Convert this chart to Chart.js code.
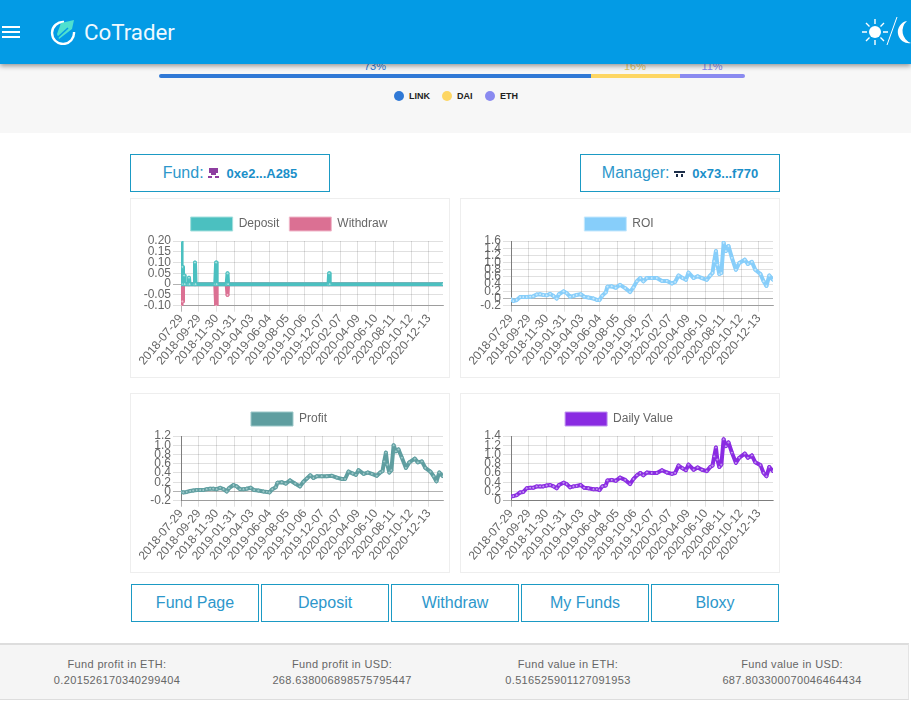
<!DOCTYPE html>
<html>
<head>
<meta charset="utf-8">
<title>CoTrader</title>
<script src="https://cdn.jsdelivr.net/npm/chart.js@4"></script>
<style>
html, body { margin: 0; padding: 0; background: #fff; overflow: hidden; }
body { width: 911px; height: 702px; position: relative; font-family: "Liberation Sans", Arial, sans-serif; }
.abs { position: absolute; }
#header { left: 0; top: 0; width: 911px; height: 64px; background: #039be5; box-shadow: 0 2px 5px rgba(0,0,0,.4); z-index: 5; }
#logo-text { left: 84px; top: 19px; color: #eef9ff; font: 400 22.3px Roboto, sans-serif; }
.burger { left: 2px; width: 18px; height: 2.4px; background: #fff; }
#top-band { left: 0; top: 64px; width: 911px; height: 69px; background: #f7f7f7; }
.pct { top: 60px; font-size: 11px; transform: translateX(-50%); }
.seg { top: 74px; height: 4px; }
.dot { top: 91px; width: 10px; height: 10px; border-radius: 50%; }
.lg { top: 91px; font-size: 9px; font-weight: bold; color: #222; line-height: 10px; }
.box { border: 1px solid #1b9ac4; box-sizing: border-box; background: #fff; color: #2d97cb; font-size: 16px; text-align: center; line-height: 36px; height: 38px; }
.box b { font-size: 13px; color: #1b8fc9; margin-left: 3px; }
.card { width: 320px; height: 180px; border: 1px solid #eee; box-sizing: border-box; }
canvas { position: absolute; left: 0; top: 0; }
#footer { left: 0; top: 643px; width: 909px; height: 57px; background: #f5f5f5; border-top: 2px solid #ddd; border-bottom: 1px solid #ddd; border-right: 1px solid #e4e4e4; box-sizing: border-box; }
.foot { transform: translateX(-50%); font-size: 11px; letter-spacing: .35px; color: #666; white-space: nowrap; text-align: center; line-height: 16px; }
</style>
</head>
<body>
<div class="abs" id="top-band"></div>
<div class="abs pct" style="left:375px;color:#3079d6">73%</div>
<div class="abs pct" style="left:635px;color:#e2c463">16%</div>
<div class="abs pct" style="left:712px;color:#8a8af0">11%</div>
<div class="abs seg" style="left:159px;width:432px;background:#3079d6;border-radius:2px 0 0 2px"></div>
<div class="abs seg" style="left:591px;width:89px;background:#fdd663"></div>
<div class="abs seg" style="left:680px;width:65px;background:#8a8af0;border-radius:0 2px 2px 0"></div>
<div class="abs dot" style="left:394px;background:#3079d6"></div><div class="abs lg" style="left:409px">LINK</div>
<div class="abs dot" style="left:442px;background:#fdd663"></div><div class="abs lg" style="left:457px">DAI</div>
<div class="abs dot" style="left:485px;background:#8a8af0"></div><div class="abs lg" style="left:500px">ETH</div>

<div class="abs" id="header">
  <div class="abs burger" style="top:26px"></div>
  <div class="abs burger" style="top:31px"></div>
  <div class="abs burger" style="top:36px"></div>
  <svg class="abs" style="left:50px;top:19px" width="26" height="26" viewBox="0 0 26 26">
    <path d="M14 3 A11 11 0 1 0 24 13" fill="none" stroke="#fff" stroke-width="2.4"/>
    <path d="M11 4 L24 1 L22 10 L9 20 L7 15 Z" fill="#4fe0cf"/>
    <path d="M7 19 L18 9" stroke="#039be5" stroke-width="1.6"/>
  </svg>
  <div class="abs" id="logo-text">CoTrader</div>
  <svg class="abs" style="left:860px;top:16px" width="51" height="32" viewBox="0 0 51 32">
    <circle cx="15" cy="16" r="6" fill="#fff"/>
    <g stroke="#fff" stroke-width="1.4">
      <path d="M15 3V8M15 24V29M2 16H7M23 16H28M6 7L9.5 10.5M20.5 21.5L24 25M6 25L9.5 21.5M20.5 10.5L24 7"/>
      <path d="M27 29L37 1" stroke-width="1"/>
    </g>
    <path d="M47 5 A11 11 0 1 0 51 27 A13 13 0 0 1 47 5 Z" fill="#fff"/>
  </svg>
</div>

<div class="abs box" style="left:130px;top:154px;width:200px">Fund:
  <svg width="11" height="11" style="vertical-align:-1px"><path d="M1 0H10V5H8V7H3V5H1ZM0 8H4V10H0ZM7 8H11V10H7Z" fill="#8e3ea0"/></svg>
  <b>0xe2...A285</b></div>
<div class="abs box" style="left:580px;top:154px;width:200px">Manager:
  <svg width="11" height="9"><path d="M0 2H11V4H0ZM2 5H4V8H2ZM7 5H9V8H7Z" fill="#1d2f4a"/></svg>
  <b>0x73...f770</b></div>

<div class="abs card" style="left:130px;top:198px"><canvas id="chart-deposit" width="320" height="180"></canvas></div>
<div class="abs card" style="left:460px;top:198px"><canvas id="chart-roi" width="320" height="180"></canvas></div>
<div class="abs card" style="left:130px;top:393px"><canvas id="chart-profit" width="320" height="180"></canvas></div>
<div class="abs card" style="left:460px;top:393px"><canvas id="chart-value" width="320" height="180"></canvas></div>

<div class="abs box" style="left:131px;top:584px;width:128px">Fund Page</div>
<div class="abs box" style="left:261px;top:584px;width:128px">Deposit</div>
<div class="abs box" style="left:391px;top:584px;width:128px">Withdraw</div>
<div class="abs box" style="left:521px;top:584px;width:128px">My Funds</div>
<div class="abs box" style="left:651px;top:584px;width:128px">Bloxy</div>

<div class="abs" id="footer"></div>
<div class="abs foot" style="left:117px;top:656px">Fund profit in ETH:<br>0.201526170340299404</div>
<div class="abs foot" style="left:342px;top:656px">Fund profit in USD:<br>268.638006898575795447</div>
<div class="abs foot" style="left:568px;top:656px">Fund value in ETH:<br>0.516525901127091953</div>
<div class="abs foot" style="left:792px;top:656px">Fund value in USD:<br>687.803300070046464434</div>

<script>
// tick labels, one every 62 days from the first day
const tickLabels = ['2018-07-29','2018-09-29','2018-11-30','2019-01-31','2019-04-03','2019-06-04','2019-08-05','2019-10-06','2019-12-07','2020-02-07','2020-04-09','2020-06-10','2020-08-11','2020-10-12','2020-12-13'];

// days since first label
const days = [0,8,20,32,43,55,67,78,90,102,113,125,137,149,160,168,184,195,207,219,230,244,256,271,289,301,310,320,332,338,353,367,382,400,417,429,441,453,464,476,493,511,529,546,564,575,587,601,613,622,640,654,669,686,698,706,712,718,723,730,737,745,753,762,774,788,800,819,830,844,856,874,885,895,905,918];

const roiValues = [-.02,-.07,-.04,.04,.04,.04,.05,.06,.11,.12,.10,.09,.13,.07,0,.12,.20,.15,.05,.07,.10,.12,.05,.03,0,-.04,-.04,.08,.17,.33,.34,.30,.38,.29,.18,.31,.48,.57,.48,.57,.57,.57,.49,.49,.42,.46,.64,.57,.52,.72,.57,.62,.57,.52,.64,.71,1.04,1.32,.94,.68,.71,1.55,1.32,1.46,1.13,.80,.99,1.08,.96,1.02,.80,.68,.48,.35,.64,.52];
const profitValues = [-.01,-.02,-.01,.01,.02,.03,.03,.03,.05,.06,.06,.05,.08,.05,0,.07,.14,.11,.05,.05,.06,.08,.03,.02,0,-.01,-.02,.05,.09,.19,.20,.17,.24,.17,.11,.21,.28,.35,.29,.33,.33,.33,.34,.30,.27,.27,.43,.39,.36,.46,.38,.41,.38,.34,.41,.44,.65,.84,.58,.41,.46,1.0,.87,.91,.73,.51,.63,.71,.63,.65,.51,.43,.33,.22,.41,.33];
const dailyValues = [.09,.10,.12,.18,.19,.27,.28,.28,.31,.31,.31,.33,.34,.31,.27,.34,.39,.36,.29,.31,.32,.34,.28,.27,.25,.25,.23,.31,.33,.44,.45,.43,.50,.45,.36,.47,.55,.60,.55,.61,.60,.60,.66,.61,.58,.60,.76,.70,.66,.78,.67,.72,.67,.64,.73,.76,.96,1.15,.89,.73,.78,1.33,1.18,1.26,1.04,.82,.93,1.02,.93,.98,.83,.77,.60,.53,.73,.64];

const depositDays = [0,2,5,7,11,13,26,28,30,47,49,51,120,123,125,160,163,165,517,519,521,918];
const depositValues = [.20,0,.08,0,.04,0,0,.03,0,0,.10,0,0,.10,0,0,.05,0,0,.05,0,0];
const withdrawDays = [0,2,5,7,120,123,125,160,163,165,918];
const withdrawValues = [-.10,0,-.08,0,0,-.10,0,0,-.05,0,0];

const pares = (xs, ys) => xs.map((x, i) => ({ x, y: ys[i] }));

function dataset(label, cor, pale, xs, ys) {
  return {
    label, data: pares(xs, ys), pale,
    borderColor: cor, backgroundColor: cor, borderWidth: 4, borderJoinStyle: 'round', tension: 0, fill: false,
    pointRadius: 1.5, pointBorderWidth: 1, pointBorderColor: cor, pointBackgroundColor: pale
  };
}

function criaGrafico(id, datasets, yMin, yMax, yStep, casas) {
  const ehZero = v => Math.abs(v) < 1e-9;
  const linhaGrid = ctx => (ctx.tick && ehZero(ctx.tick.value)) ? 'rgba(0,0,0,.3)' : 'rgba(0,0,0,.12)';
  return new Chart(document.getElementById(id), {
    type: 'line',
    data: { datasets },
    options: {
      responsive: false, animation: false,
      layout: { padding: { top: 8, right: 8, bottom: 11, left: 4 } },
      plugins: {
        tooltip: { enabled: false },
        legend: { labels: { boxWidth: 42, boxHeight: 14, color: '#666', font: { size: 12 }, padding: 10,
          generateLabels: chart => Chart.defaults.plugins.legend.labels.generateLabels(chart).map((l, i) => ({
            ...l, lineWidth: 1, strokeStyle: chart.data.datasets[i].pale
          })) } }
      },
      scales: {
        x: {
          type: 'linear', min: 0, max: 918,
          border: { color: 'rgba(0,0,0,.3)' },
          grid: { color: linhaGrid, tickLength: 6 },
          afterBuildTicks: s => { s.ticks = tickLabels.map((_, i) => ({ value: i * 62 })); },
          ticks: { autoSkip: false, maxRotation: 50, minRotation: 50, color: '#666', font: { size: 12 }, padding: 0,
            callback: v => tickLabels[v / 62] }
        },
        y: {
          min: yMin, max: yMax,
          border: { color: 'rgba(0,0,0,.3)' },
          grid: { color: linhaGrid, tickLength: 8 },
          afterFit: s => { s.width = 46; },
          ticks: { stepSize: yStep, autoSkip: false, color: '#666', font: { size: 12 }, padding: 2,
            callback: v => ehZero(v) ? '0' : v.toFixed(casas) }
        }
      }
    }
  });
}

Chart.defaults.font.family = '"Liberation Sans", Arial, sans-serif';

criaGrafico('chart-deposit', [
  dataset('Deposit', 'rgb(75,192,192)', '#a5e0de', depositDays, depositValues),
  dataset('Withdraw', 'palevioletred', '#f0b8ca', withdrawDays, withdrawValues)
], -0.1, 0.2, 0.05, 2);
criaGrafico('chart-roi', [dataset('ROI', 'lightskyblue', '#c5e8fd', days, roiValues)], -0.2, 1.6, 0.2, 1);
criaGrafico('chart-profit', [dataset('Profit', 'cadetblue', '#9cc8c9', days, profitValues)], -0.2, 1.2, 0.2, 1);
criaGrafico('chart-value', [dataset('Daily Value', 'blueviolet', '#c096ef', days, dailyValues)], 0, 1.4, 0.2, 1);
</script>
</body>
</html>
